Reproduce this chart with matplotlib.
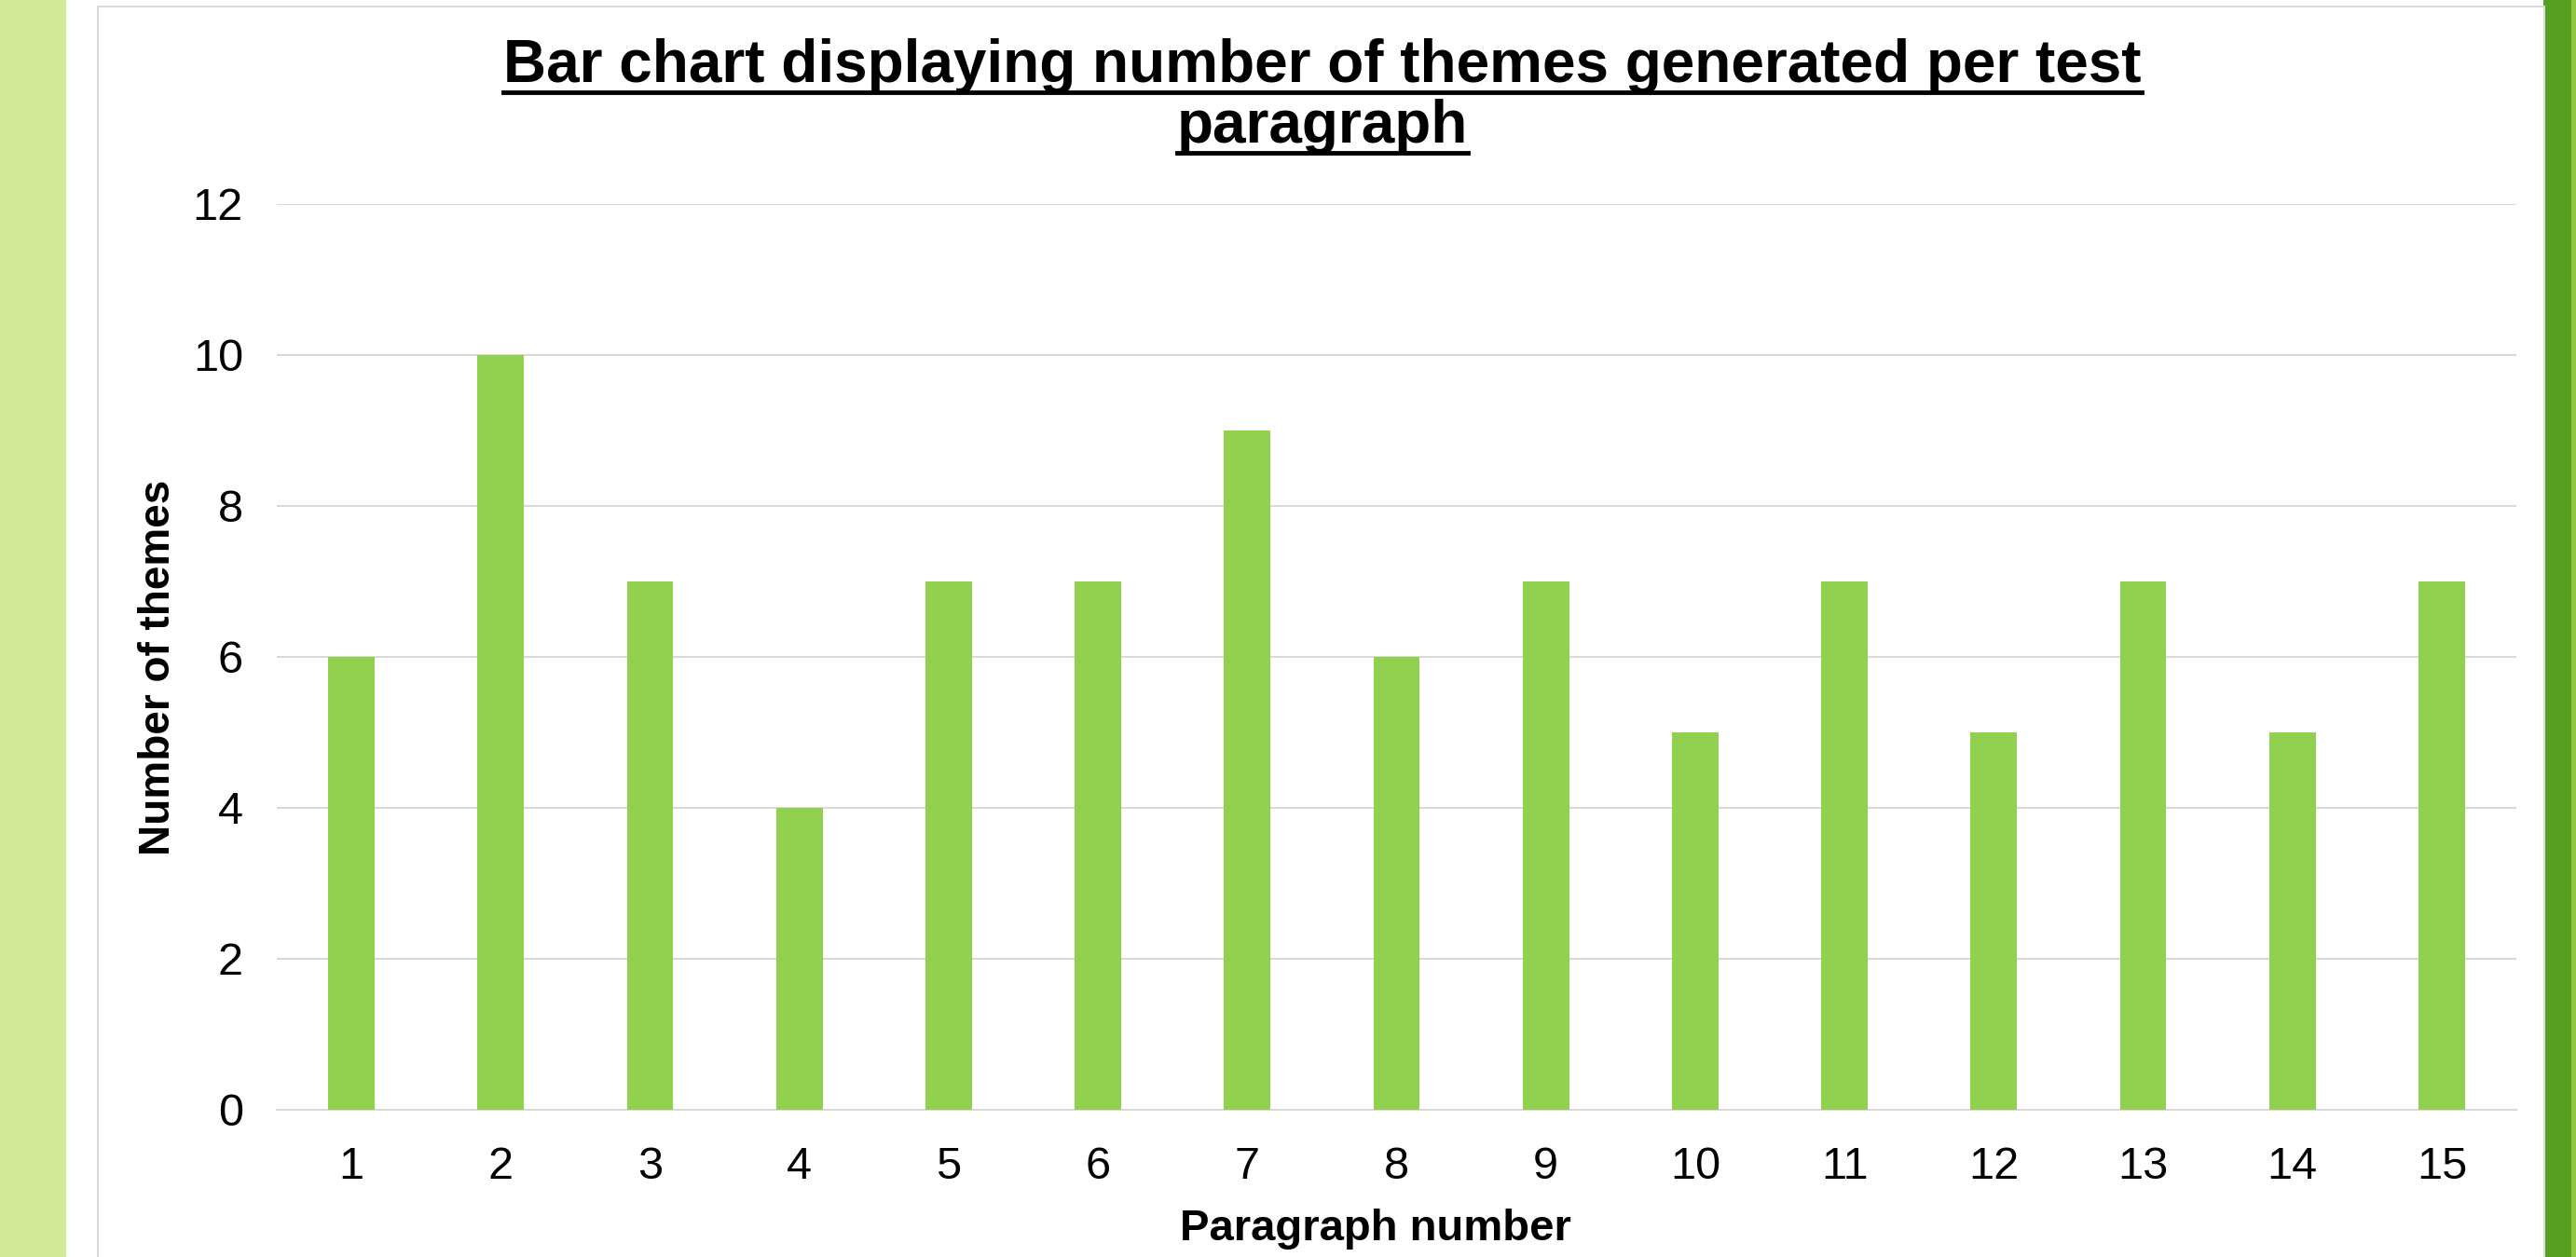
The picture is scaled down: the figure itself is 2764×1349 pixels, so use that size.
import matplotlib
matplotlib.use("Agg")
import matplotlib.pyplot as plt
from matplotlib.patches import Rectangle
from matplotlib.lines import Line2D

plt.rcParams["font.family"] = ["Liberation Sans", "DejaVu Sans"]

paragraphs = [str(i) for i in range(1, 16)]
themes = [6, 10, 7, 4, 7, 7, 9, 6, 7, 5, 7, 5, 7, 5, 7]
yticks = [0, 2, 4, 6, 8, 10, 12]

W, H = 2764, 1349
fig = plt.figure(figsize=(W / 100, H / 100), dpi=100, facecolor="white")

def fx(px): return px / W
def fy(py): return 1 - py / H

# side bands and chart frame (behind the axes)
for rect in [Rectangle((0, 0), fx(71), 1, fc="#D0EA98", ec="none"),
             Rectangle((fx(2729), 0), fx(30), 1, fc="#55A021", ec="none"),
             Rectangle((fx(2759), 0), fx(5), 1, fc="#93C63B", ec="none"),
             Rectangle((fx(105), fy(1360)), fx(2730 - 105), fy(7) - fy(1360),
                       fc="white", ec="#D9D9D9", lw=1.5)]:
    rect.set_transform(fig.transFigure)
    rect.set_zorder(-5)
    fig.patches.append(rect)

ax = fig.add_axes([fx(297), fy(1191), fx(2700 - 297), fy(219) - fy(1191)])
ax.set_zorder(5)
x = range(len(paragraphs))
ax.bar(x, themes, width=0.31, color="#92D050", zorder=3)
ax.set_xlim(-0.5, len(paragraphs) - 0.5)
ax.set_ylim(0, 12)
ax.set_yticks(yticks)
ax.set_xticks(list(x))
ax.set_xticklabels(paragraphs)
ax.tick_params(length=0, labelsize=35, pad=28)
ax.tick_params(axis="y", pad=26)
ax.grid(axis="y", color="#D9D9D9", lw=1.5, zorder=0)
for s in ["top", "right", "left"]:
    ax.spines[s].set_visible(False)
ax.spines["bottom"].set_color("#D9D9D9")
ax.spines["bottom"].set_linewidth(1.5)
ax.patch.set_alpha(0)

fig.text(fx(1476), fy(1331), "Paragraph number", ha="center", va="baseline", fontsize=34, fontweight="bold")
fig.text(fx(170), fy(716), "Number of themes", ha="center", va="center", rotation=90,
         fontsize=33, fontweight="bold")

# underlined two-line title
t1 = fig.text(fx(1419), fy(88), "Bar chart displaying number of themes generated per test",
              ha="center", va="baseline", fontsize=46, fontweight="bold")
t2 = fig.text(fx(1419), fy(153), "paragraph", ha="center", va="baseline", fontsize=46, fontweight="bold")
fig.canvas.draw()
r = fig.canvas.get_renderer()
for t, base in [(t1, 88), (t2, 153)]:
    bb = t.get_window_extent(r)
    yl = fy(base + 11)
    fig.add_artist(Line2D([bb.x0 / W, bb.x1 / W], [yl, yl], transform=fig.transFigure,
                          color="black", lw=3.5))

fig.savefig("out.png", dpi=100, facecolor="white")
